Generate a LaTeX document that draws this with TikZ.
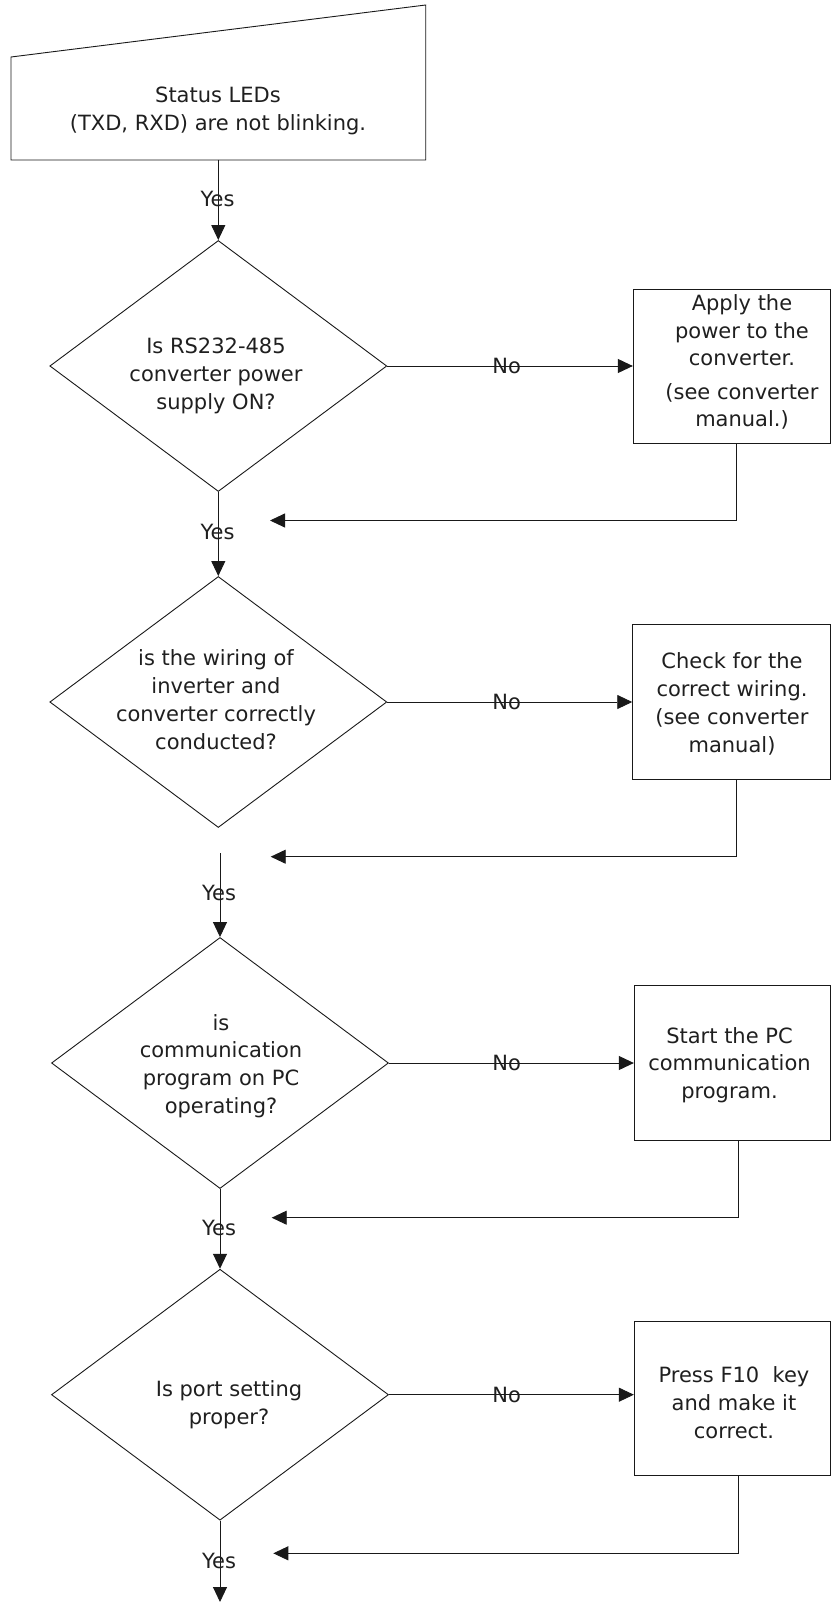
\documentclass[tikz,border=0pt]{standalone}
\usepackage{fontspec}
\setmainfont{DejaVu Sans}
\usetikzlibrary{shapes.geometric,arrows.meta}
\begin{document}
\begin{tikzpicture}[x=1pt,y=-1pt,
  line/.style={line width=0.9pt, draw=black!90},
  arr/.style={line, -{Triangle[length=15pt,width=14pt]}},
  dec/.style={shape=diamond, line, minimum width=337pt, minimum height=251pt, inner sep=0pt},
  proc/.style={shape=rectangle, line, minimum height=154.5pt, inner sep=0pt},
  txt/.style={align=center, font=\fontsize{21}{27.8}\selectfont, text=black!88, inner sep=0pt},
  lbl/.style={font=\fontsize{21}{24}\selectfont, text=black!88, inner sep=0pt}]
\useasboundingbox (0,0) rectangle (831,1602);

% start (manual input)
\draw[line] (11,57) -- (425.7,5) -- (425.7,160) -- (11,160) -- cycle;
\node[txt] (start) at (218,111) {Status LEDs\\(TXD, RXD) are not blinking.};
\coordinate (startb) at (218.3,160);

% decisions
\node[dec] (d1) at (218.3,366) {};
\node[dec] (d2) at (218.3,702) {};
\node[dec] (d3) at (220,1063) {};
\node[dec] (d4) at (220,1394.7) {};
\node[txt] (d1t) at (216,376) {Is RS232-485\\converter power\\supply ON?};
\node[txt] (d2t) at (216,699.5) {is the wiring of\\inverter and\\converter correctly\\conducted?};
\node[txt] (d3t) at (221,1066) {is\\communication\\program on PC\\operating?};
\node[txt] (d4t) at (229,1404.5) {Is port setting\\proper?};

% process boxes
\node[proc, minimum width=197.2pt] (b1) at (731.9,366.3) {};
\node[proc, minimum width=197.8pt] (b2) at (731.6,701.7) {};
\node[proc, minimum width=196.2pt] (b3) at (732.4,1062.9) {};
\node[proc, minimum width=196.2pt] (b4) at (732.4,1398.3) {};
\node[txt] (b1t) at (742,362) {Apply the\\power to the\\converter.\\[5.5pt](see converter\\manual.)};
\node[txt] (b2t) at (732,704) {Check for the\\correct wiring.\\(see converter\\manual)};
\node[txt] (b3t) at (729.5,1065) {Start the PC\\communication\\program.};
\node[txt] (b4t) at (734,1402.5) {Press F10\ \ key\\and make it\\correct.};

% main spine
\coordinate (c3) at (220,853.3);
\coordinate (endc) at (220,1602);
\draw[arr] (startb) -- (d1.north);
\draw[arr] (d1.south) -- (d2.north);
\draw[arr] (c3) -- (d3.north);
\draw[arr] (d3.south) -- (d4.north);
\draw[arr] (d4.south) -- (endc);
\node[lbl] (y1) at (217.5,199) {Yes};
\node[lbl] (y2) at (217.5,531.7) {Yes};
\node[lbl] (y3) at (219,893) {Yes};
\node[lbl] (y4) at (219,1227.5) {Yes};
\node[lbl] (y5) at (219,1561) {Yes};

% No branches
\draw[arr] (d1.east) -- (d1.east -| b1.west);
\draw[arr] (d2.east) -- (d2.east -| b2.west);
\draw[arr] (d3.east) -- (d3.east -| b3.west);
\draw[arr] (d4.east) -- (d4.east -| b4.west);
\node[lbl] (n1) at (506.7,366) {No};
\node[lbl] (n2) at (506.7,702) {No};
\node[lbl] (n3) at (506.7,1063) {No};
\node[lbl] (n4) at (506.7,1394.7) {No};

% return lines
\coordinate (r1c) at (736.7,520.5);  \coordinate (r1e) at (270,520.5);
\coordinate (r2c) at (736.7,856.7);  \coordinate (r2e) at (270.7,856.7);
\coordinate (r3c) at (738.3,1217.7); \coordinate (r3e) at (271.7,1217.7);
\coordinate (r4c) at (738.3,1553.3); \coordinate (r4e) at (273.3,1553.3);
\draw[arr] (b1.south -| r1c) -- (r1c) -- (r1e);
\draw[arr] (b2.south -| r2c) -- (r2c) -- (r2e);
\draw[arr] (b3.south -| r3c) -- (r3c) -- (r3e);
\draw[arr] (b4.south -| r4c) -- (r4c) -- (r4e);
\end{tikzpicture}
\end{document}
